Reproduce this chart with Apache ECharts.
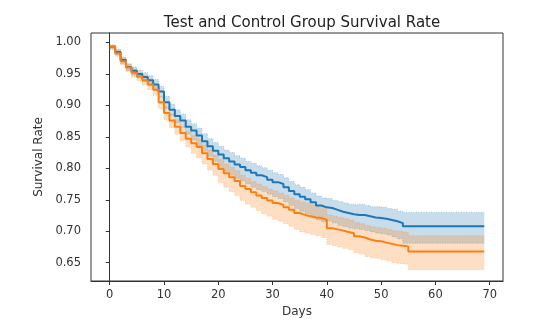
<!DOCTYPE html>
<html><head><meta charset="utf-8">
<script src="https://cdn.jsdelivr.net/npm/echarts@6/dist/echarts.min.js"></script>
<style>html,body{margin:0;padding:0;background:#fff}#c{width:536px;height:328px}</style>
</head><body><div id="c"></div>
<script>
const xTicks = [0, 10, 20, 30, 40, 50, 60, 70];
const yTicks = [0.65, 0.70, 0.75, 0.80, 0.85, 0.90, 0.95, 1.00];

const testDays = [0,1,2,3,4,5,6,7,8,9,10,11,12,13,14,15,16,17,18,19,20,21,22,23,24,25,26,27,28,29,30,31,32,33,34,35,36,37,38,39,40,41,42,43,44,45,46,47,48,49,50,51,52,53,54,69];
const testSurv = [.993,.985,.972,.961,.955,.950,.945,.940,.933,.922,.905,.893,.883,.876,.866,.860,.852,.843,.835,.828,.822,.816,.811,.806,.802,.797,.793,.789,.786,.782,.778,.775,.770,.764,.759,.755,.751,.746,.741,.738,.737,.734,.731,.729,.727,.726,.726,.724,.722,.721,.720,.718,.716,.713,.708,.708];
const testUpper = [.996,.989,.977,.966,.961,.956,.952,.947,.941,.930,.914,.902,.893,.886,.877,.871,.864,.855,.847,.841,.835,.829,.825,.820,.816,.811,.808,.804,.801,.797,.793,.790,.785,.779,.774,.770,.766,.761,.756,.753,.752,.749,.747,.745,.743,.742,.743,.741,.739,.739,.738,.736,.735,.732,.730,.730];
const testLower = [.989,.980,.966,.955,.948,.943,.937,.932,.924,.913,.895,.883,.872,.865,.854,.845,.836,.827,.819,.811,.801,.795,.789,.784,.780,.775,.770,.766,.763,.759,.755,.752,.747,.741,.736,.732,.728,.723,.718,.715,.716,.713,.709,.707,.705,.704,.703,.701,.699,.697,.696,.694,.691,.688,.681,.681];

const ctrlDays = [0,1,2,3,4,5,6,7,8,9,10,11,12,13,14,15,16,17,18,19,20,21,22,23,24,25,26,27,28,29,30,31,32,33,34,35,36,37,38,39,40,41,42,43,44,45,46,47,48,49,50,51,52,53,54,55,69];
const ctrlSurv = [.993,.983,.970,.960,.952,.946,.940,.933,.925,.905,.888,.876,.866,.856,.847,.840,.834,.824,.815,.807,.799,.792,.786,.780,.772,.767,.762,.757,.753,.749,.745,.742,.738,.734,.729,.726,.724,.722,.721,.718,.705,.703,.701,.699,.697,.692,.690,.687,.685,.684,.682,.680,.678,.677,.676,.668,.668];
const ctrlUpper = [.996,.987,.975,.965,.958,.952,.947,.940,.933,.914,.898,.886,.877,.867,.859,.852,.847,.837,.829,.821,.814,.807,.802,.796,.789,.784,.779,.775,.771,.767,.764,.761,.757,.753,.749,.746,.744,.742,.741,.738,.726,.724,.722,.720,.718,.714,.712,.709,.707,.706,.705,.703,.701,.700,.699,.693,.693];
const ctrlLower = [.990,.978,.964,.954,.945,.939,.932,.925,.916,.895,.877,.865,.854,.844,.834,.824,.817,.807,.797,.789,.777,.770,.763,.757,.749,.743,.738,.733,.728,.724,.719,.716,.712,.708,.703,.699,.697,.695,.693,.690,.679,.677,.675,.673,.671,.666,.664,.660,.658,.657,.655,.653,.650,.649,.648,.639,.639];

const BLUE = '#1f77b4', ORANGE = '#ff7f0e';
const BLUE_FILL = 'rgba(31,119,180,0.25)', ORANGE_FILL = 'rgba(255,127,14,0.25)';
const BLUE_EDGE = 'rgba(31,119,180,0.35)', ORANGE_EDGE = 'rgba(255,127,14,0.35)';

function pairs(xs, ys) { return xs.map((x, i) => [x, ys[i]]); }
function stepPts(xs, ys, api) {
  const pts = [];
  for (let i = 0; i < xs.length; i++) {
    if (i > 0) pts.push(api.coord([xs[i], ys[i - 1]]));
    pts.push(api.coord([xs[i], ys[i]]));
  }
  return pts;
}
function bandSeries(xs, lo, hi, fill, edge) {
  return { type: 'custom', silent: true, data: [[xs[0], lo[0]]],
    renderItem: function (params, api) {
      const top = stepPts(xs, hi, api);
      const bot = stepPts(xs, lo, api);
      return { type: 'group', children: [
        { type: 'polygon', shape: { points: top.concat(bot.slice().reverse()) }, style: { fill: fill } },
        { type: 'polyline', shape: { points: top }, style: { stroke: edge, lineWidth: 1, lineDash: [1, 1.5], fill: null } },
        { type: 'polyline', shape: { points: bot }, style: { stroke: edge, lineWidth: 1, lineDash: [1, 1.5], fill: null } }
      ] };
    } };
}
function lineSeries(name, xs, ys, color) {
  return { name: name, type: 'line', step: 'end', symbol: 'none', silent: true,
    lineStyle: { color: color, width: 2 }, data: pairs(xs, ys) };
}

const tickFont = { fontFamily: 'DejaVu Sans', fontSize: 11.5, color: '#333' };
const nameFont = { fontFamily: 'DejaVu Sans', fontSize: 12, color: '#333' };
const chart = echarts.init(document.getElementById('c'), null, { renderer: 'canvas' });
chart.setOption({
  animation: false,
  backgroundColor: '#fff',
  title: { text: 'Test and Control Group Survival Rate', left: 297, textAlign: 'center', top: 11,
    textStyle: { fontFamily: 'DejaVu Sans', fontSize: 15, fontWeight: 'normal', color: '#222' } },
  grid: { left: 91, right: 33, top: 33, bottom: 47, show: true, borderColor: '#333', borderWidth: 1, backgroundColor: 'transparent' },
  xAxis: { type: 'value', min: -3.45, max: 72.45,
    name: 'Days', nameLocation: 'middle', nameGap: 20, nameTextStyle: nameFont,
    axisLine: { show: true, lineStyle: { color: '#333' } },
    axisTick: { show: true, length: 4, lineStyle: { color: '#333' }, customValues: xTicks },
    axisLabel: Object.assign({ margin: 8, customValues: xTicks, formatter: v => String(v) }, tickFont),
    splitLine: { show: false } },
  yAxis: { type: 'value', min: 0.621, max: 1.015,
    name: 'Survival Rate', nameLocation: 'middle', nameGap: 44, nameRotate: 90, nameTextStyle: nameFont,
    axisLine: { show: true, lineStyle: { color: '#333' } },
    axisTick: { show: true, length: 4, lineStyle: { color: '#333' }, customValues: yTicks },
    axisLabel: Object.assign({ margin: 10, customValues: yTicks, formatter: v => v.toFixed(2) }, tickFont),
    splitLine: { show: false } },
  series: [
    bandSeries(testDays, testLower, testUpper, BLUE_FILL, BLUE_EDGE),
    lineSeries('Test', testDays, testSurv, BLUE),
    bandSeries(ctrlDays, ctrlLower, ctrlUpper, ORANGE_FILL, ORANGE_EDGE),
    lineSeries('Control', ctrlDays, ctrlSurv, ORANGE)
  ]
});
</script></body></html>
